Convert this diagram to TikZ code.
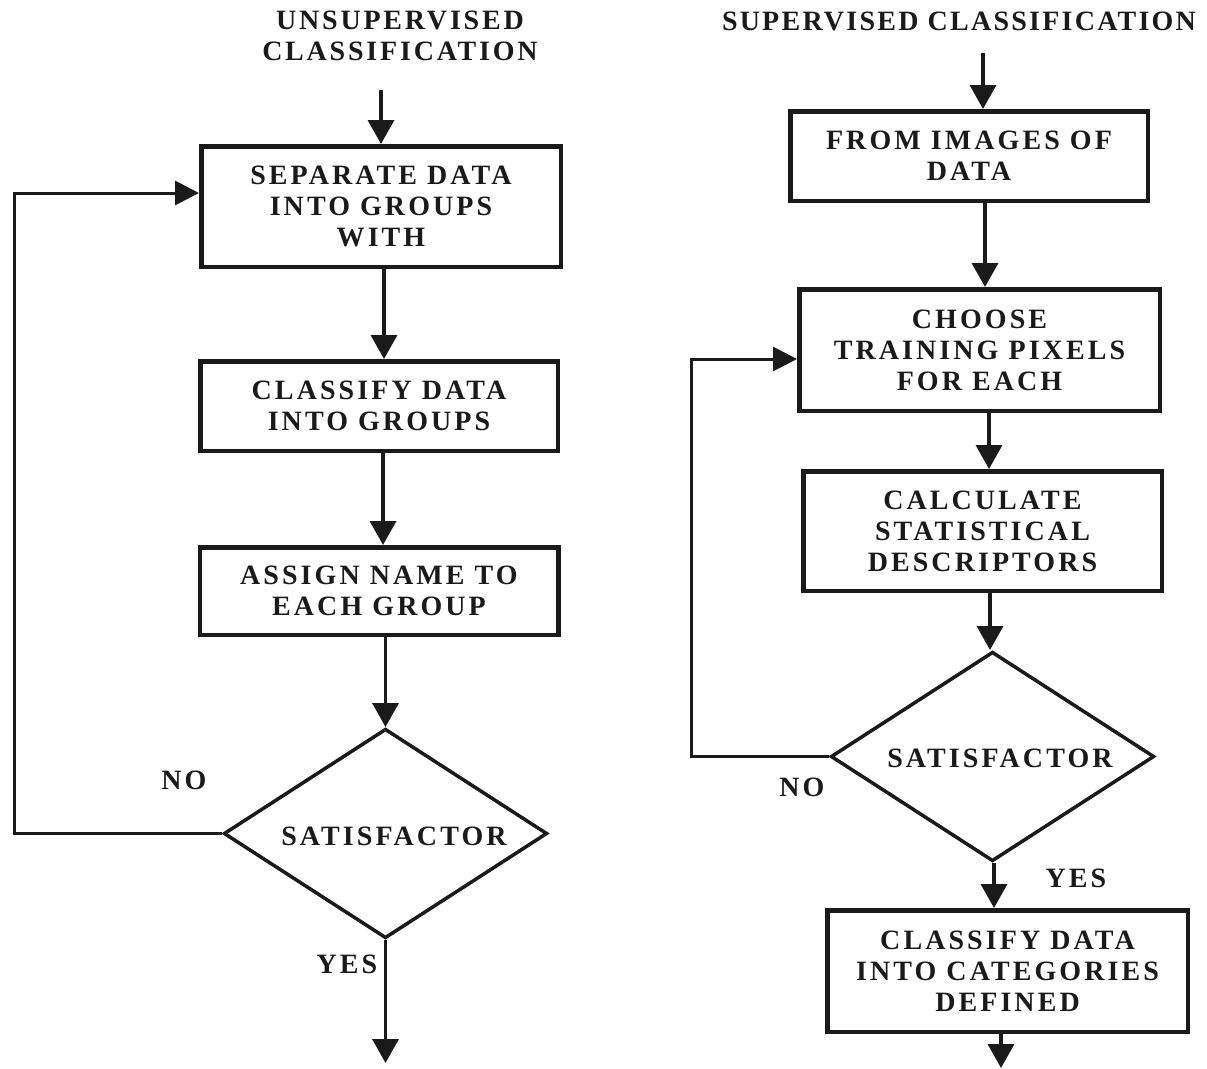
\documentclass[tikz,border=0pt]{standalone}
\usepackage{fontspec}
\setmainfont{Liberation Serif}[LetterSpace=11]
\usetikzlibrary{arrows.meta,shapes.geometric}
\definecolor{ink}{HTML}{1A1A1A}
\tikzset{
  txt/.style={inner sep=0pt, text=ink, font=\fontsize{28}{31}\selectfont\bfseries, align=center},
  box/.style={txt, draw=ink, line width=4.5pt, inner sep=0pt},
  dia/.style={draw=ink, line width=3.5pt, shape=diamond, inner sep=0pt},
  arr/.style={draw=ink, line width=3.5pt, -{Triangle[length=24pt,width=26pt]}},
  fb/.style={draw=ink, line width=3pt, line join=miter, -{Triangle[length=24pt,width=24pt]}}
}
\begin{document}
\begin{tikzpicture}[x=1pt,y=-1pt]
\fill[white] (0,0) rectangle (1207,1068);
\useasboundingbox (0,0) rectangle (1207,1068);

% ---------- left: unsupervised ----------
\node[txt, font=\fontsize{28}{31}\selectfont\bfseries\addfontfeatures{LetterSpace=10}] (tU) at (400,36) {UNSUPERVISED\\CLASSIFICATION};
\coordinate (sL) at (381,90);
\node[box, minimum width=359.5pt, minimum height=120.5pt] (b1) at (381,206.5) {SEPARATE DATA\\INTO GROUPS\\WITH};
\node[box, minimum width=357.5pt, minimum height=89.5pt] (b2) at (379,406) {CLASSIFY DATA\\INTO GROUPS};
\node[box, minimum width=358.5pt, minimum height=87.5pt] (b3) at (379,591) {ASSIGN NAME TO\\EACH GROUP};
\node[dia, minimum width=323.5pt, minimum height=209.5pt] (dL) at (385.5,833.5) {};
\node[txt] (sfL) at (394,836) {SATISFACTOR};
\node[txt] (noL) at (184,780) {NO};
\node[txt] (yesL) at (347,964) {YES};
\coordinate (fbL) at (14,193);
\coordinate (endL) at (0,1063);

\draw[arr] (sL) -- (sL |- b1.north);
\draw[arr] ([xshift=3pt]b1.south) -- ([xshift=3pt]b1.south |- b2.north);
\draw[arr] ([xshift=4pt]b2.south) -- ([xshift=4pt]b2.south |- b3.north);
\draw[arr] (b3.south -| dL.north) -- (dL.north);
\draw[arr] (dL.south) -- (dL.south |- endL);
\draw[fb] (dL.west) -| (fbL) -- (fbL -| b1.west);

% ---------- right: supervised ----------
\node[txt, font=\fontsize{28}{31}\selectfont\bfseries\addfontfeatures{LetterSpace=8}] (tS) at (959,21) {SUPERVISED CLASSIFICATION};
\coordinate (sR) at (983,53);
\node[box, minimum width=357.5pt, minimum height=89.5pt] (r1) at (969,156) {FROM IMAGES OF\\DATA};
\node[box, minimum width=360.5pt, minimum height=121.5pt] (r2) at (979.5,350) {CHOOSE\\TRAINING PIXELS\\FOR EACH};
\node[box, minimum width=358.5pt, minimum height=119.5pt] (r3) at (982.5,531) {CALCULATE\\STATISTICAL\\DESCRIPTORS};
\node[dia, minimum width=323.5pt, minimum height=209.5pt] (dR) at (992.5,756.5) {};
\node[txt] (sfR) at (1000,758) {SATISFACTOR};
\node[txt] (noR) at (802,787) {NO};
\node[txt] (yesR) at (1076,878) {YES};
\node[box, minimum width=360.5pt, minimum height=121.5pt] (r4) at (1007.5,971) {CLASSIFY DATA\\INTO CATEGORIES\\DEFINED};
\coordinate (fbR) at (691,359);
\coordinate (endR) at (0,1068);

\draw[arr] (sR) -- (sR |- r1.north);
\draw[arr] ([xshift=16pt]r1.south) -- ([xshift=16pt]r1.south |- r2.north);
\draw[arr] ([xshift=9.5pt]r2.south) -- ([xshift=9.5pt]r2.south |- r3.north);
\draw[arr] ([xshift=7.5pt]r3.south) -- ([xshift=7.5pt]r3.south |- dR.north);
\draw[arr] ([xshift=1.5pt]dR.south) -- ([xshift=1.5pt]dR.south |- r4.north);
\draw[arr] ([xshift=-6.5pt]r4.south) -- ([xshift=-6.5pt]r4.south |- endR);
\draw[fb] (dR.west) -| (fbR) -- (fbR -| r2.west);
\end{tikzpicture}
\end{document}
